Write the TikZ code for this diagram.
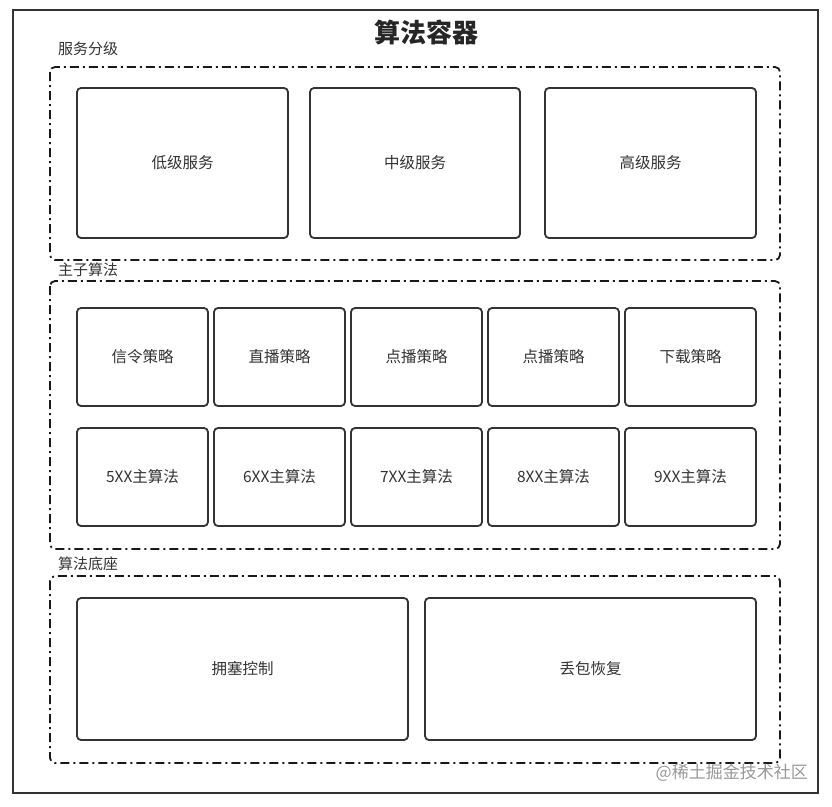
\documentclass[tikz,border=0pt]{standalone}
\usepackage{fontspec}
\newfontfamily\cjk{Noto Sans CJK SC}
\newfontfamily\cjkb{Noto Sans CJK SC Bold}
\begin{document}
\begin{tikzpicture}[x=1pt,y=-1pt,
  box/.style={draw=black!80,line width=1.8pt,rounded corners=4pt,fill=white},
  grp/.style={draw=black!90,line width=1.8pt,rounded corners=5pt,dash pattern=on 9pt off 4pt on 2pt off 4pt},
  lbl/.style={font=\cjk\fontsize{15.5}{18}\selectfont,text=black!80},
  glbl/.style={font=\cjk\fontsize{15}{17}\selectfont,text=black!80,anchor=west,inner sep=0pt}]
\useasboundingbox (0,0) rectangle (832,806);
\fill[white] (0,0) rectangle (832,806);
\draw[line width=1.8pt,draw=black!80] (13,10) rectangle (818,793);
\node[font=\cjk\bfseries\fontsize{26}{29}\selectfont,text=black!85] (title) at (426,32) {算法容器};
% group 1
\node[glbl] (g1l) at (58,49) {服务分级};
\draw[grp] (50,67) rectangle (780,260);
\node[box,minimum width=211pt,minimum height=150pt,lbl] (a1) at (182.5,163) {低级服务};
\node[box,minimum width=210pt,minimum height=150pt,lbl] (a2) at (415,163) {中级服务};
\node[box,minimum width=211pt,minimum height=150pt,lbl] (a3) at (650.5,163) {高级服务};
% group 2
\node[glbl] (g2l) at (58,270) {主子算法};
\draw[grp] (50,281) rectangle (780,549);
\foreach \x/\t [count=\i] in {142.5/信令策略,279.5/直播策略,416.5/点播策略,553.5/点播策略,690.5/下载策略}{
  \node[box,minimum width=131pt,minimum height=98pt,lbl] (s\i) at (\x,357) {\t};
}
\foreach \x/\t [count=\i] in {142.5/5XX主算法,279.5/6XX主算法,416.5/7XX主算法,553.5/8XX主算法,690.5/9XX主算法}{
  \node[box,minimum width=131pt,minimum height=98pt,lbl] (m\i) at (\x,477) {\t};
}
% group 3
\node[glbl] (g3l) at (58,564) {算法底座};
\draw[grp] (50,576) rectangle (780,763);
\node[box,minimum width=331pt,minimum height=142pt,lbl] (b1) at (242.5,669) {拥塞控制};
\node[box,minimum width=331pt,minimum height=142pt,lbl] (b2) at (590.5,669) {丢包恢复};
\node[font=\cjk\fontsize{17}{19}\selectfont,text=black!40,anchor=east,inner sep=0pt] (wm) at (808,773) {@稀土掘金技术社区};
\end{tikzpicture}
\end{document}
